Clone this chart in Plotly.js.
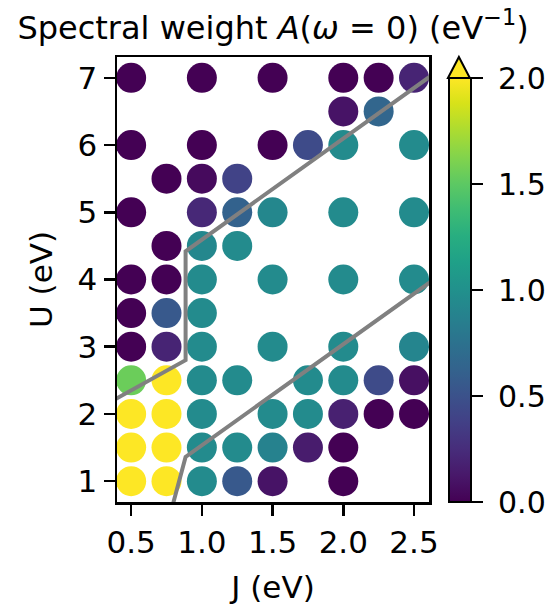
<!DOCTYPE html>
<html>
<head>
<meta charset="utf-8">
<script src="https://cdn.plot.ly/plotly-3.0.1.min.js"></script>
<style>html,body{margin:0;padding:0;background:#fff;}#chart{width:558px;height:607px;}</style>
</head>
<body>
<div id="chart"></div>
<script>
// Grid points (J, U) and spectral weight A(w=0)
const J_vals = [
  0.5, 1.0, 1.5, 2.0, 2.25, 2.5,
  2.0, 2.25,
  0.5, 1.0, 1.5, 1.75, 2.0, 2.5,
  0.75, 1.0, 1.25,
  0.5, 1.0, 1.25, 1.5, 2.0, 2.5,
  0.75, 1.0, 1.25,
  0.5, 0.75, 1.0, 1.5, 2.0, 2.5,
  0.5, 0.75, 1.0,
  0.5, 0.75, 1.0, 1.5, 2.0, 2.5,
  0.5, 0.75, 1.0, 1.25, 1.75, 2.0, 2.25, 2.5,
  0.5, 0.75, 1.0, 1.5, 1.75, 2.0, 2.25, 2.5,
  0.5, 0.75, 1.0, 1.25, 1.5, 1.75, 2.0,
  0.5, 0.75, 1.0, 1.25, 1.5, 2.0
];
const U_vals = [
  7, 7, 7, 7, 7, 7,
  6.5, 6.5,
  6, 6, 6, 6, 6, 6,
  5.5, 5.5, 5.5,
  5, 5, 5, 5, 5, 5,
  4.5, 4.5, 4.5,
  4, 4, 4, 4, 4, 4,
  3.5, 3.5, 3.5,
  3, 3, 3, 3, 3, 3,
  2.5, 2.5, 2.5, 2.5, 2.5, 2.5, 2.5, 2.5,
  2, 2, 2, 2, 2, 2, 2, 2,
  1.5, 1.5, 1.5, 1.5, 1.5, 1.5, 1.5,
  1, 1, 1, 1, 1, 1
];
const A_vals = [
  0.0, 0.0, 0.0, 0.0, 0.0, 0.2,
  0.1, 0.65,
  0.0, 0.0, 0.0, 0.45, 0.95, 0.95,
  0.0, 0.05, 0.4,
  0.0, 0.22, 0.62, 0.92, 0.95, 0.95,
  0.0, 0.92, 0.95,
  0.0, 0.0, 0.95, 0.95, 0.95, 0.95,
  0.0, 0.55, 0.95,
  0.0, 0.2, 0.95, 0.95, 0.95, 0.9,
  1.55, 2.1, 0.95, 0.95, 0.95, 0.95, 0.45, 0.08,
  2.2, 2.2, 0.95, 0.95, 0.95, 0.18, 0.0, 0.0,
  2.3, 2.2, 0.95, 0.95, 0.88, 0.15, 0.0,
  2.4, 2.2, 0.95, 0.55, 0.1, 0.0
];
// Phase boundary lines
const upperLineJ = [0.2, 0.885, 0.885, 2.7];
const upperLineU = [2.0, 2.8, 4.42, 7.15];
const lowerLineJ = [0.75, 0.885, 2.7];
const lowerLineU = [0.3, 1.36, 4.09];

const xTicks = [0.5, 1.0, 1.5, 2.0, 2.5];
const yTicks = [1, 2, 3, 4, 5, 6, 7];
const cbTicks = [0.0, 0.5, 1.0, 1.5, 2.0];

const font = 'DejaVu Sans, sans-serif';
const FS = 31;
const traces = [
  {
    type: 'scatter', mode: 'markers', x: J_vals, y: U_vals,
    marker: {
      size: 30, color: A_vals, colorscale: 'Viridis', cmin: 0, cmax: 2,
      line: {width: 0},
      showscale: true,
      colorbar: {
        x: 1.0607, xanchor: 'left', xpad: 0,
        y: 0, yanchor: 'bottom', ypad: 0,
        len: 0.9528, lenmode: 'fraction',
        thickness: 22, thicknessmode: 'pixels',
        outlinewidth: 2, outlinecolor: '#000',
        ticks: 'outside', ticklen: 11, tickwidth: 2.5, tickcolor: '#000',
        tickvals: cbTicks, ticktext: cbTicks.map(v => '\u00a0' + v.toFixed(1)),
        tickfont: {family: font, size: 30, color: '#000'}
      }
    },
    hoverinfo: 'skip', showlegend: false
  },
  {type: 'scatter', mode: 'lines', x: upperLineJ, y: upperLineU,
   line: {color: '#808080', width: 4}, showlegend: false, hoverinfo: 'skip'},
  {type: 'scatter', mode: 'lines', x: lowerLineJ, y: lowerLineU,
   line: {color: '#808080', width: 4}, showlegend: false, hoverinfo: 'skip'}
];

const axisCommon = {
  showgrid: false, zeroline: false, showline: true, mirror: true,
  linecolor: '#000', linewidth: 2.5,
  ticks: 'outside', ticklen: 11, tickwidth: 2.5, tickcolor: '#000',
  tickfont: {family: font, size: FS, color: '#000'}
};

const layout = {
  width: 558, height: 607,
  margin: {l: 117, r: 128, t: 57, b: 105},
  paper_bgcolor: '#fff', plot_bgcolor: '#fff',
  font: {family: font, color: '#000'},
  title: {
    text: 'Spectral weight <i>A</i>(<i>ω</i> = 0) (eV<sup>−1</sup>)',
    font: {family: font, size: 32, color: '#000'},
    x: 0.5, xref: 'paper', xanchor: 'center',
    y: 0.955, yref: 'container', yanchor: 'middle'
  },
  xaxis: Object.assign({}, axisCommon, {
    range: [0.40, 2.606],
    tickvals: xTicks, ticktext: xTicks.map(v => v.toFixed(1)),
    title: {text: 'J (eV)', font: {family: font, size: FS, color: '#000'}, standoff: 18}
  }),
  yaxis: Object.assign({}, axisCommon, {
    range: [0.69, 7.31],
    tickvals: yTicks, ticktext: yTicks.map(v => String(v)),
    title: {text: 'U (eV)', font: {family: font, size: FS, color: '#000'}, standoff: 16}
  }),
  shapes: [{
    type: 'path', xref: 'paper', yref: 'paper',
    path: 'M 1.0607 0.9528 L 1.1310 0.9528 L 1.0958 1.0 Z',
    fillcolor: '#fde725', line: {color: '#000', width: 2}, layer: 'above'
  }]
};

Plotly.newPlot('chart', traces, layout, {displayModeBar: false, staticPlot: true});
</script>
</body>
</html>
